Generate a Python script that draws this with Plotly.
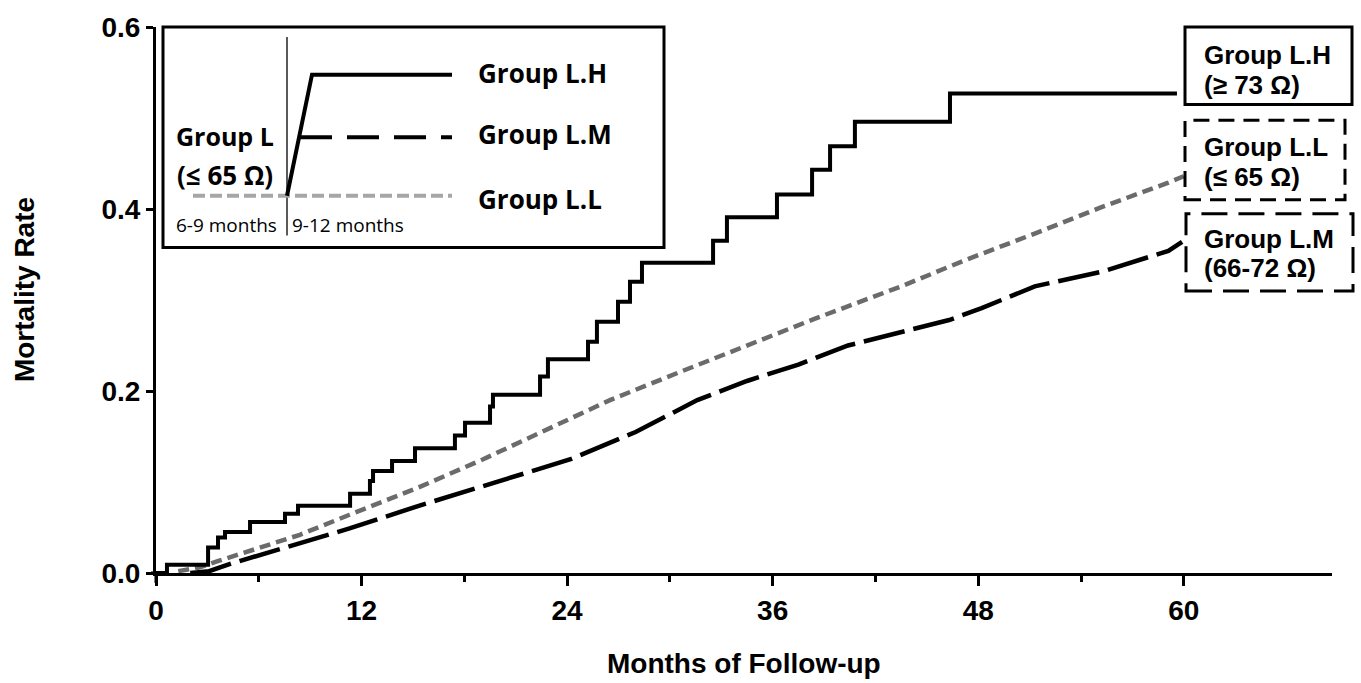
import plotly.graph_objects as go

# ---------------- data ----------------
# Group L.H (>= 73 ohm): Kaplan-Meier style step curve
lh_months = [0, 0.64, 3.04, 3.62, 4.03, 5.49, 7.53, 8.29, 11.33, 12.49, 12.67, 13.78, 15.12,
             17.45, 18.04, 19.5, 19.67, 22.42, 22.88, 25.22, 25.74, 26.97, 27.67, 28.37,
             32.52, 33.33, 36.25, 38.3, 39.35, 40.8, 46.35, 59.6]
lh_rate = [0, 0.009, 0.028, 0.039, 0.045, 0.056, 0.065, 0.074, 0.087, 0.101, 0.112, 0.123, 0.137,
           0.151, 0.165, 0.183, 0.196, 0.216, 0.235, 0.254, 0.276, 0.298, 0.320, 0.341,
           0.365, 0.391, 0.416, 0.443, 0.469, 0.496, 0.527, 0.527]

# Group L.L (<= 65 ohm)
ll_months = [1.3, 2.5, 3.6, 5.5, 8.4, 11.3, 15.2, 19.1, 22.5, 26.5, 30.6, 34.5, 38.4,
             43.5, 47.4, 51.3, 55.2, 59.1, 60.0]
ll_rate = [0.002, 0.006, 0.013, 0.024, 0.042, 0.064, 0.093, 0.125, 0.155, 0.190, 0.221, 0.250,
           0.279, 0.315, 0.345, 0.373, 0.402, 0.429, 0.436]

# Group L.M (66-72 ohm)
lm_months = [2.0, 3.1, 4.5, 7.4, 11.3, 15.2, 20.1, 24.2, 28.0, 31.6, 34.5, 37.5, 40.4,
             43.3, 46.3, 48.2, 51.3, 55.2, 59.1, 59.9]
lm_rate = [0.0, 0.002, 0.011, 0.027, 0.049, 0.073, 0.102, 0.125, 0.155, 0.190, 0.211, 0.229,
           0.250, 0.264, 0.278, 0.291, 0.315, 0.331, 0.354, 0.364]

x_major = [0, 12, 24, 36, 48, 60]
x_minor = [6, 18, 30, 42, 54]
y_major = [0.0, 0.2, 0.4, 0.6]
y_labels = ["0.0", "0.2", "0.4", "0.6"]

# ---------------- layout helpers (pixel -> paper) ----------------
W, H = 1361, 683
L, R, T, B = 156, 1332, 23, 573


def px(x):
    return (x - L) / (R - L)


def py(y):
    return (B - y) / (B - T)


ARIAL = "Liberation Sans, Arial, sans-serif"
CAL = "Open Sans, Calibri, sans-serif"

fig = go.Figure()
fig.add_trace(go.Scatter(x=lm_months, y=lm_rate, mode="lines", line_shape="linear",
                         line=dict(color="black", width=4.5, dash="42px,9px"), showlegend=False))
fig.add_trace(go.Scatter(x=ll_months, y=ll_rate, mode="lines",
                         line=dict(color="#6b6b6b", width=4.5, dash="11px,6px"), showlegend=False))
fig.add_trace(go.Scatter(x=lh_months, y=lh_rate, mode="lines", line_shape="hv",
                         line=dict(color="black", width=4), showlegend=False))

shapes = []
annotations = []

# y axis extension below zero / x axis extension left
shapes.append(dict(type="line", xref="paper", yref="paper", x0=0, x1=0, y0=py(573), y1=py(583),
                   line=dict(color="black", width=3)))
shapes.append(dict(type="line", xref="paper", yref="paper", x0=px(151), x1=0, y0=0, y1=0,
                   line=dict(color="black", width=3)))

# ---------------- inset legend box ----------------
shapes.append(dict(type="rect", xref="paper", yref="paper", x0=px(163), x1=px(664), y0=py(245), y1=py(23),
                   line=dict(color="black", width=3), fillcolor="white", layer="above"))
shapes.append(dict(type="line", xref="paper", yref="paper", x0=px(287), x1=px(287), y0=py(233), y1=py(33),
                   line=dict(color="black", width=1.3)))
shapes.append(dict(type="line", xref="paper", yref="paper", x0=px(193), x1=px(452), y0=py(193), y1=py(193),
                   line=dict(color="#a6a6a6", width=4, dash="12px,5px")))
shapes.append(dict(type="path", xref="paper", yref="paper",
                   path=f"M {px(287)},{py(193)} L {px(312)},{py(71)} L {px(452)},{py(71)}",
                   line=dict(color="black", width=4)))
shapes.append(dict(type="line", xref="paper", yref="paper", x0=px(300), x1=px(452), y0=py(134), y1=py(134),
                   line=dict(color="black", width=4, dash="32px,15px")))

for txt, yy in [("Group L.H", 69), ("Group L.M", 131), ("Group L.L", 196)]:
    annotations.append(dict(text=txt, xref="paper", yref="paper", x=px(476), y=py(yy),
                            xanchor="left", yanchor="middle", showarrow=False,
                            font=dict(family=CAL, size=26, color="black", weight="bold")))
annotations.append(dict(text="Group L", xref="paper", yref="paper", x=px(225), y=py(133),
                        xanchor="center", yanchor="middle", showarrow=False,
                        font=dict(family=CAL, size=25, color="black", weight="bold")))
annotations.append(dict(text="(≤ 65 Ω)", xref="paper", yref="paper", x=px(225), y=py(172),
                        xanchor="center", yanchor="middle", showarrow=False,
                        font=dict(family=CAL, size=26, color="black", weight="bold")))
annotations.append(dict(text="6-9 months", xref="paper", yref="paper", x=px(226), y=py(222),
                        xanchor="center", yanchor="middle", showarrow=False,
                        font=dict(family=CAL, size=19, color="black")))
annotations.append(dict(text="9-12 months", xref="paper", yref="paper", x=px(348), y=py(222),
                        xanchor="center", yanchor="middle", showarrow=False,
                        font=dict(family=CAL, size=19, color="black")))

# ---------------- right-side group boxes ----------------
boxes = [
    (1185, 1352, 23, 101, "solid", "Group L.H", "(≥ 73 Ω)", 51, 81),
    (1185, 1345, 117, 197, "16px,9px", "Group L.L", "(≤ 65 Ω)", 144, 174),
    (1186, 1353, 211, 289, "26px,11px", "Group L.M", "(66-72 Ω)", 237, 266),
]
for x0, x1, y0, y1, dash, t1, t2, ty1, ty2 in boxes:
    shapes.append(dict(type="rect", xref="paper", yref="paper", x0=px(x0), x1=px(x1), y0=py(y1), y1=py(y0),
                       line=dict(color="black", width=3, dash=dash), fillcolor="rgba(0,0,0,0)"))
    for t, ty in [(t1, ty1), (t2, ty2)]:
        annotations.append(dict(text=t, xref="paper", yref="paper", x=px(1202), y=py(ty),
                                xanchor="left", yanchor="middle", showarrow=False,
                                font=dict(family=ARIAL, size=26, color="black", weight="bold")))

# ---------------- axis titles ----------------
annotations.append(dict(text="Mortality Rate", xref="paper", yref="paper", x=px(24), y=py(288),
                        xanchor="center", yanchor="middle", showarrow=False, textangle=-90,
                        font=dict(family=ARIAL, size=28, color="black", weight="bold")))
annotations.append(dict(text="Months of Follow-up", xref="paper", yref="paper", x=px(744), y=py(664),
                        xanchor="center", yanchor="middle", showarrow=False,
                        font=dict(family=ARIAL, size=28, color="black", weight="bold")))

fig.update_layout(
    width=W, height=H,
    margin=dict(l=L, r=W - R, t=T, b=H - B, pad=0),
    paper_bgcolor="white", plot_bgcolor="white",
    shapes=shapes, annotations=annotations,
    xaxis=dict(range=[0, (R - L) / 17.13], showgrid=False, zeroline=False,
               showline=True, linecolor="black", linewidth=3,
               tickmode="array", tickvals=x_major, ticktext=[str(v) for v in x_major],
               ticks="outside", ticklen=10, tickwidth=3, tickcolor="black",
               minor=dict(tickmode="array", tickvals=x_minor, ticks="outside", ticklen=6,
                          tickwidth=3, tickcolor="black", showgrid=False),
               tickfont=dict(family=ARIAL, size=28, color="black", weight="bold")),
    yaxis=dict(range=[0, 0.6], showgrid=False, zeroline=False,
               showline=True, linecolor="black", linewidth=3,
               tickmode="array", tickvals=y_major, ticktext=y_labels,
               ticks="outside", ticklen=7, tickwidth=3, tickcolor="black",
               tickfont=dict(family=ARIAL, size=28, color="black", weight="bold")),
)

fig.write_html("out.html")
